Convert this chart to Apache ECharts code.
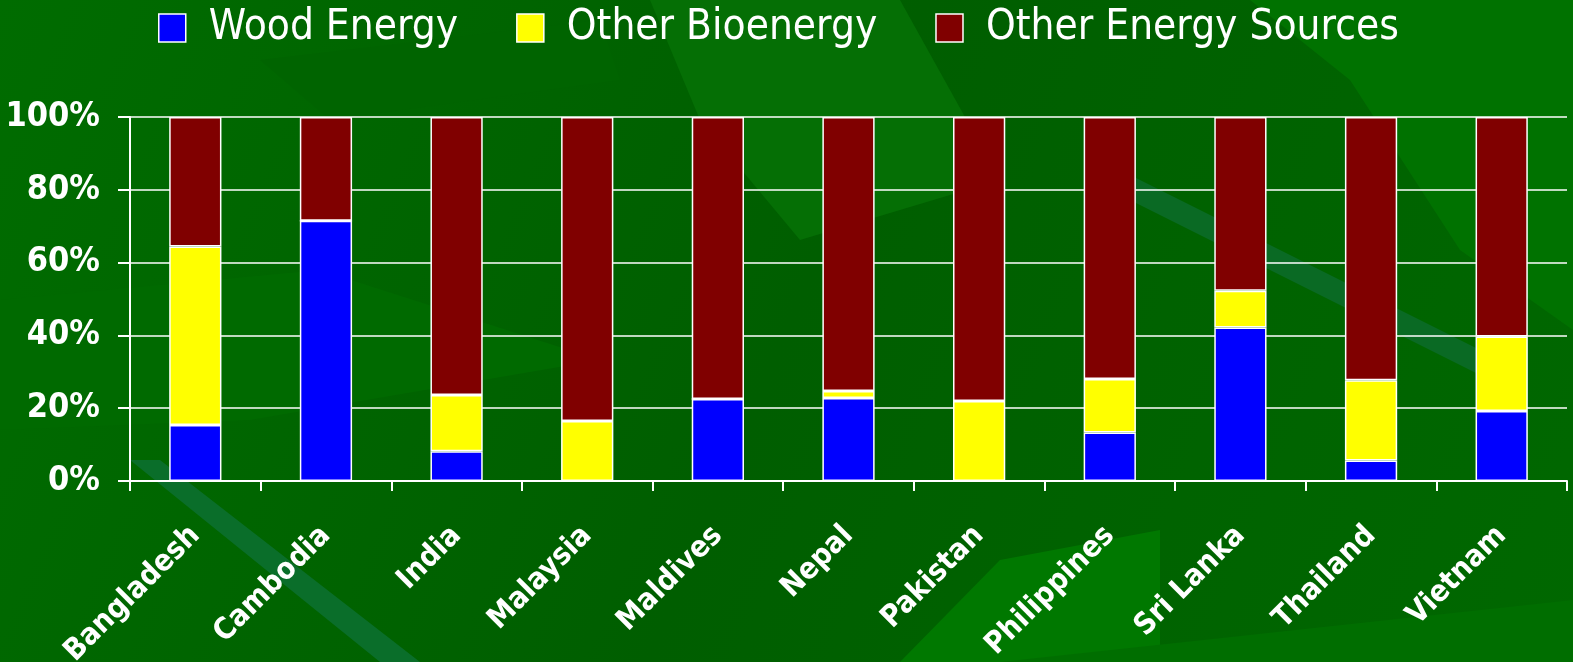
<!DOCTYPE html>
<html lang="en">
<head>
    <meta charset="UTF-8">
    <title>echarts</title>
    <script src="https://cdn.jsdelivr.net/npm/echarts@6/dist/echarts.min.js"></script>
    <style>
        html, body { margin: 0; padding: 0; }
        #main { width: 1573px; height: 662px; }
    </style>
</head>
<body>
<div id="main"></div>

<script type="text/javascript">
    // 数据
    var countries = ['Bangladesh', 'Cambodia', 'India', 'Malaysia', 'Maldives', 'Nepal',
        'Pakistan', 'Philippines', 'Sri Lanka', 'Thailand', 'Vietnam'];
    var woodEnergy = [15.4, 71.5, 8.2, 0, 22.5, 22.8, 0, 13.3, 42.2, 5.6, 19.2];
    var otherBio = [49.0, 0, 15.4, 16.5, 0, 1.9, 22.0, 14.7, 10.1, 22.1, 20.5];
    var otherSources = [35.6, 28.5, 76.4, 83.5, 77.5, 75.3, 78.0, 72.0, 47.7, 72.3, 60.3];
    var yTicks = [0, 20, 40, 60, 80, 100];

    var font = '"Liberation Sans Narrow", "DejaVu Sans Condensed", "Liberation Sans", sans-serif';

    var myChart = echarts.init(document.getElementById('main'));

    function barSeries(name, color, data) {
        return {
            name: name,
            type: 'bar',
            stack: 'total',
            barWidth: '40%',
            data: data,
            itemStyle: { color: color, borderColor: '#ffffff', borderWidth: 1.5 }
        };
    }

    // 背景里的叶子
    function leaf(points, color) {
        return { type: 'polygon', silent: true, shape: { points: points }, style: { fill: color } };
    }

    var option = {
        backgroundColor: {
            type: 'linear', x: 0, y: 0, x2: 1, y2: 1,
            colorStops: [
                { offset: 0, color: '#006c00' },
                { offset: 0.5, color: '#005e00' },
                { offset: 1, color: '#006800' }
            ]
        },
        graphic: [
            leaf([[650, 0], [900, 0], [1000, 180], [800, 240], [700, 120]], '#056f05'),
            leaf([[260, 60], [600, 20], [620, 80], [330, 120]], '#006400'),
            leaf([[1250, 0], [1573, 0], [1573, 330], [1460, 250], [1350, 80]], '#007200'),
            leaf([[0, 300], [320, 270], [600, 360], [250, 420], [0, 430]], '#006a00'),
            leaf([[1000, 560], [1160, 530], [1160, 662], [900, 662]], '#007800'),
            leaf([[1000, 662], [1573, 600], [1573, 662]], '#006e00'),
            leaf([[130, 460], [160, 460], [420, 662], [380, 662]], '#0a6e2a'),
            leaf([[1100, 160], [1500, 360], [1490, 380], [1090, 180]], '#0a6a24')
        ],
        legend: {
            left: 153,
            top: 2,
            itemWidth: 27,
            itemHeight: 28,
            itemGap: 58,
            icon: 'rect',
            itemStyle: { borderColor: '#ffffff', borderWidth: 1.5 },
            textStyle: {
                color: '#ffffff',
                fontSize: 42,
                fontFamily: font,
                padding: [0, 0, 0, 18]
            },
            data: ['Wood Energy', 'Other Bioenergy', 'Other Energy Sources']
        },
        grid: { left: 130, right: 6, top: 117, bottom: 181, outerBoundsMode: 'none', containLabel: false },
        xAxis: {
            type: 'category',
            data: countries,
            axisLine: { lineStyle: { color: '#ffffff', width: 2 } },
            axisTick: { show: true, length: 10, lineStyle: { color: '#ffffff', width: 2 } },
            axisLabel: {
                color: '#ffffff',
                fontSize: 30,
                fontWeight: 'bold',
                fontFamily: font,
                rotate: 45,
                margin: 50
            }
        },
        yAxis: {
            type: 'value',
            min: yTicks[0],
            max: yTicks[yTicks.length - 1],
            interval: 20,
            axisLine: { show: true, lineStyle: { color: '#ffffff', width: 2 } },
            axisTick: { show: true, length: 12, lineStyle: { color: '#ffffff', width: 2 } },
            splitLine: { lineStyle: { color: '#ffffff', width: 1.5 } },
            axisLabel: {
                color: '#ffffff',
                fontSize: 34,
                fontWeight: 'bold',
                fontFamily: font,
                margin: 30,
                formatter: '{value}%'
            }
        },
        series: [
            barSeries('Wood Energy', '#0000ff', woodEnergy),
            barSeries('Other Bioenergy', '#ffff00', otherBio),
            barSeries('Other Energy Sources', '#800000', otherSources)
        ]
    };

    myChart.setOption(option);
</script>
</body>
</html>
